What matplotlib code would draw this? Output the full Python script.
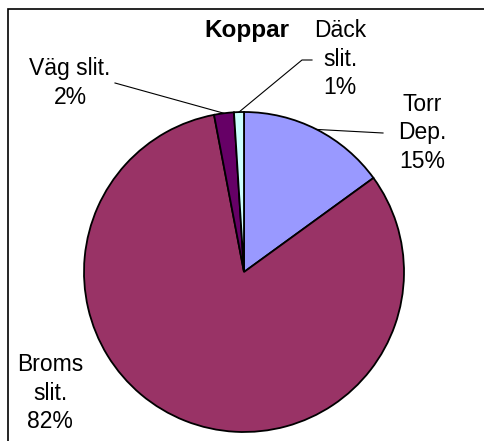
import numpy as np
import matplotlib
matplotlib.use('Agg')
import matplotlib.pyplot as plt
from matplotlib.patches import Rectangle
from matplotlib.lines import Line2D

# Data
labels = ['Torr\nDep.', 'Broms\nslit.', 'Väg slit.', 'Däck\nslit.']
values = [15, 82, 2, 1]
colors = ['#9999FF', '#993366', '#660066', '#CCFFFF']
title = 'Koppar'

W, H = 484, 441
plt.rcParams['font.family'] = ['Liberation Sans', 'DejaVu Sans']

fig = plt.figure(figsize=(W / 100, H / 100), dpi=100)

# outer frame (runs off the right/bottom edge like the reference)
fig.patches.append(Rectangle((7.5 / W, -0.1), 1.2, 1 - 8.5 / H + 0.1,
                             transform=fig.transFigure, fill=False,
                             edgecolor='black', linewidth=1.2))

# pie axes: centre (244, 272) px, radius 160 px
cx, cy, r = 244, 272, 160
ax = fig.add_axes([(cx - r) / W, (H - cy - r) / H, 2 * r / W, 2 * r / H])
wedges, _ = ax.pie(values, colors=colors, startangle=90, counterclock=False,
                   wedgeprops=dict(edgecolor='black', linewidth=1.3))
ax.set_xlim(-1, 1)
ax.set_ylim(-1, 1)
ax.set_aspect('equal')
ax.axis('off')

fig.text(247 / W, 1 - 31 / H, title, ha='center', va='center',
         fontsize=17.5, fontweight='bold')

# label block centres in px (x, y from top) and leader line anchors
label_pos = [(422, 133), (50, 393), (70, 83), (340, 59)]
leader_end = [(383, 133), None, (115, 83), (312, 60)]
total = float(sum(values))
start = 90.0
for i, (lab, v) in enumerate(zip(labels, values)):
    pct = '%d%%' % round(100 * v / total)
    x, y = label_pos[i]
    fig.text(x / W, 1 - y / H, lab + '\n' + pct, ha='center', va='center',
             fontsize=16.5, linespacing=1.32)
    mid = np.deg2rad(start - 360 * v / total / 2)
    start -= 360 * v / total
    if leader_end[i] is None:
        continue
    px = cx + r * np.cos(mid)
    py = cy - r * np.sin(mid)
    ex, ey = leader_end[i]
    xs = [px, ex]
    ys = [py, ey]
    if i == 3:
        xs = [px, ex - 10, ex]
        ys = [py, ey, ey]
    fig.lines.append(Line2D([u / W for u in xs], [1 - u / H for u in ys],
                            transform=fig.transFigure, color='black',
                            linewidth=0.8))

fig.savefig('out.png', dpi=100)
